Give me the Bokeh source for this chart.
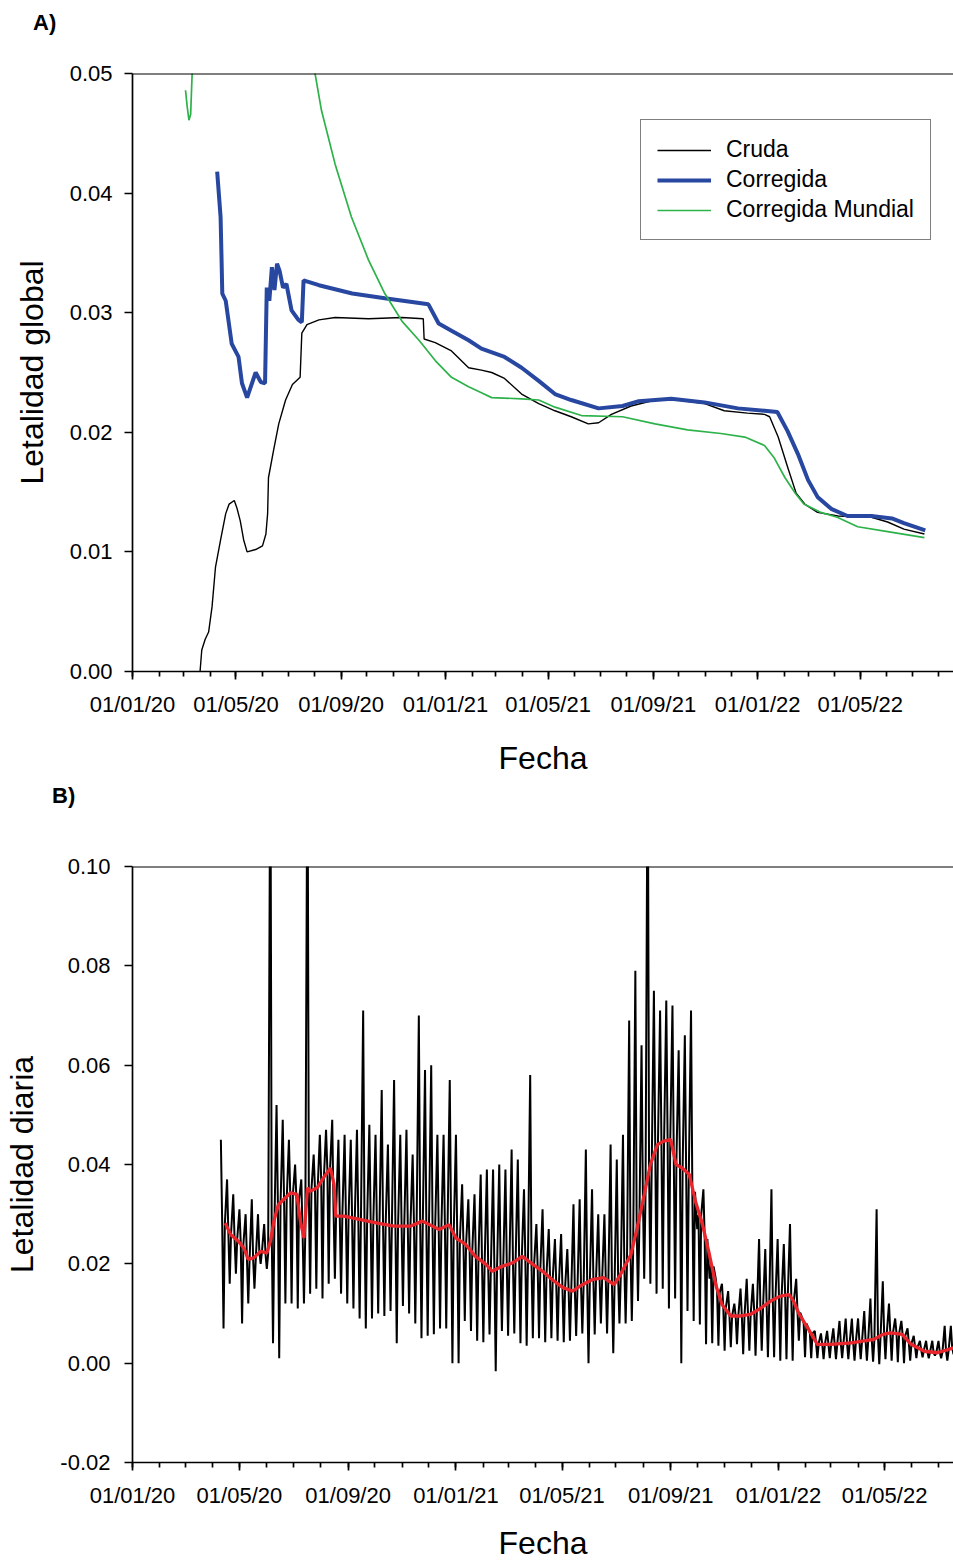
import numpy as np
from bokeh.plotting import figure
from bokeh.models import (Range1d, FixedTicker, DatetimeTickFormatter, NumeralTickFormatter,
                          Span, Div)
from bokeh.layouts import column
from bokeh.embed import file_html
from bokeh.resources import INLINE

FONT = "Liberation Sans"

# ---------------- Panel A data ----------------
cruda_dates = ["2020-03-20", "2020-03-22", "2020-03-26", "2020-03-30", "2020-04-03", "2020-04-07",
               "2020-04-13", "2020-04-19", "2020-04-23", "2020-04-29", "2020-05-02", "2020-05-06",
               "2020-05-10", "2020-05-14", "2020-05-24", "2020-06-01", "2020-06-05", "2020-06-07",
               "2020-06-08", "2020-06-14", "2020-06-20", "2020-06-28", "2020-07-06", "2020-07-15",
               "2020-07-17", "2020-07-23", "2020-08-06", "2020-08-25", "2020-10-03", "2020-11-11",
               "2020-12-06", "2020-12-07", "2020-12-20", "2021-01-08", "2021-01-28", "2021-02-12",
               "2021-02-24", "2021-03-11", "2021-03-31", "2021-04-20", "2021-05-09", "2021-05-28",
               "2021-06-17", "2021-06-29", "2021-07-14", "2021-08-06", "2021-09-03", "2021-09-30",
               "2021-10-31", "2021-11-23", "2021-12-20", "2022-01-09", "2022-01-15", "2022-01-25",
               "2022-02-05", "2022-02-15", "2022-02-25", "2022-03-12", "2022-04-05", "2022-05-14",
               "2022-06-02", "2022-06-21", "2022-07-15"]
cruda_vals = [0.0, 0.0018, 0.0027, 0.0033, 0.0054, 0.0087,
              0.0110, 0.0132, 0.0140, 0.0143, 0.0137, 0.0126,
              0.0110, 0.0100, 0.0102, 0.0105, 0.0115, 0.0132,
              0.0162, 0.0185, 0.0207, 0.0227, 0.0240, 0.0246,
              0.0283, 0.0290, 0.0294, 0.0296, 0.0295, 0.0296,
              0.0295, 0.0278, 0.0275, 0.0268, 0.0254, 0.0252,
              0.0250, 0.0245, 0.0232, 0.0224, 0.0218, 0.0213,
              0.0207, 0.0208, 0.0215, 0.0222, 0.0227, 0.0227,
              0.0224, 0.0218, 0.0216, 0.0215, 0.0213, 0.0196,
              0.0171, 0.0149, 0.0140, 0.0133, 0.0130, 0.0129,
              0.0125, 0.0119, 0.0115]

corr_dates = ["2020-04-09", "2020-04-13", "2020-04-14", "2020-04-15", "2020-04-19", "2020-04-26",
              "2020-05-04", "2020-05-08", "2020-05-14", "2020-05-24", "2020-05-30", "2020-06-04",
              "2020-06-06", "2020-06-09", "2020-06-12", "2020-06-15", "2020-06-18", "2020-06-21",
              "2020-06-25", "2020-06-29", "2020-07-05", "2020-07-13", "2020-07-17", "2020-07-19",
              "2020-08-06", "2020-09-14", "2020-10-22", "2020-12-12", "2020-12-24", "2021-01-08",
              "2021-01-28", "2021-02-12", "2021-03-11", "2021-03-31", "2021-04-20", "2021-05-09",
              "2021-05-28", "2021-06-29", "2021-07-27", "2021-08-15", "2021-09-22", "2021-10-31",
              "2021-12-09", "2022-01-09", "2022-01-24", "2022-02-05", "2022-02-17", "2022-03-01",
              "2022-03-12", "2022-03-28", "2022-04-16", "2022-05-14", "2022-06-07", "2022-06-21",
              "2022-07-16"]
corr_vals = [0.0418, 0.0380, 0.0349, 0.0316, 0.0310, 0.0274,
             0.0263, 0.0241, 0.0229, 0.0250, 0.0242, 0.0241,
             0.0321, 0.0310, 0.0338, 0.0319, 0.0341, 0.0335,
             0.0321, 0.0324, 0.0302, 0.0294, 0.0292, 0.0327,
             0.0323, 0.0316, 0.0312, 0.0307, 0.0291, 0.0285,
             0.0277, 0.0270, 0.0263, 0.0254, 0.0243, 0.0232,
             0.0227, 0.0220, 0.0222, 0.0226, 0.0228, 0.0225,
             0.0220, 0.0218, 0.0217, 0.0201, 0.0182, 0.0160,
             0.0146, 0.0136, 0.0130, 0.0130, 0.0128, 0.0124,
             0.0118]

mund_dates = ["2020-03-03", "2020-03-05", "2020-03-07", "2020-03-09", "2020-03-11", "2020-03-12",
              "2020-07-30", "2020-08-09", "2020-08-25", "2020-09-13", "2020-10-03", "2020-10-22",
              "2020-11-11", "2020-12-01", "2020-12-20", "2021-01-08", "2021-01-28", "2021-02-12",
              "2021-02-24", "2021-03-31", "2021-04-20", "2021-05-09", "2021-06-09", "2021-07-27",
              "2021-09-03", "2021-10-11", "2021-11-19", "2021-12-17", "2022-01-09", "2022-01-20",
              "2022-02-02", "2022-02-14", "2022-02-24", "2022-03-16", "2022-04-04", "2022-04-28",
              "2022-06-02", "2022-07-15"]
mund_vals = [0.0486, 0.0472, 0.0461, 0.0466, 0.0505, float("nan"),
             0.0510, 0.0469, 0.0424, 0.0380, 0.0344, 0.0316,
             0.0293, 0.0277, 0.0260, 0.0246, 0.0238, 0.0233,
             0.0229, 0.0228, 0.0227, 0.0221, 0.0214, 0.0213,
             0.0207, 0.0202, 0.0199, 0.0196, 0.0189, 0.0179,
             0.0162, 0.0149, 0.0140, 0.0133, 0.0129, 0.0121,
             0.0117, 0.0112]

# ---------------- Panel B data ----------------
# daily lethality, read week by week (values x 1000): spike top, trough and band centre
daily_start = "2020-04-10"
daily_hi = [45, 37, 34, 31, 30, 33, 30, 28, 130, 52,
            49, 45, 40, 37, 130, 42, 46, 47, 49, 45,
            46, 45, 47, 71, 48, 46, 55, 44, 57, 46,
            47, 42, 70, 59, 60, 46, 46, 57, 46, 36,
            33, 34, 38, 39, 39, 40, 39, 43, 41, 35,
            58, 28, 31, 27, 25, 26, 23, 32, 33, 43,
            35, 30, 30, 44, 41, 46, 69, 79, 64, 130,
            75, 71, 73, 72, 63, 66, 71, 27, 35, 17,
            17, 16, 14.5, 12, 15, 17, 16, 25, 23, 35,
            25, 24, 28, 17, 9, 7, 6.5, 6, 6.5, 7,
            8.5, 9, 9, 9, 10.5, 13, 31, 16.5, 12, 9,
            8.5, 7, 5.5, 4.5, 4.5, 4.5, 4.5, 7.5, 7.5]
daily_lo = [7, 16, 18, 8, 12, 15, 20, 19, 4, 1,
            12, 12, 11, 12, 14, 15, 13, 16, 17, 14,
            12, 11, 9, 7, 9, 10, 9.5, 10.5, 4, 11.5,
            10, 8, 5, 5.5, 5.8, 7, 7, 0, 0, 8.5,
            6.5, 4.5, 4.2, 5.8, -1.6, 6.5, 5.5, 6, 4, 3.5,
            5, 5, 4.2, 5, 4.5, 4.2, 4.5, 5.5, 6, 0,
            5.8, 8, 6, 2, 8, 8, 8.5, 12.5, 17, 16,
            14, 15, 11, 13, 0, 10.5, 8.5, 7.8, 3.8, 4,
            3.5, 2.5, 3.2, 3.8, 1.8, 2.5, 1.5, 2.5, 1.2, 1.2,
            0.5, 0.8, 0.5, 4.5, 1.2, 1, 1, 0.8, 1, 0.8,
            1, 0.8, 0.5, 0.8, 0.5, 0.3, -0.2, 0.8, 0.5, 0.2,
            0, 0.5, 1, 1.2, 1, 1.5, 1, 0.5, 1.8]
daily_mid = [28, 26, 25, 24, 21, 21, 22.5, 22, 27, 32,
             33, 34, 33, 26, 35, 35, 37, 39, 31, 30,
             29.5, 29, 29, 28.7, 28.5, 28.2, 28, 27.7, 27.6, 27.6,
             27.6, 28, 28.5, 28, 27.5, 27, 27.5, 26.5, 25, 24,
             22.5, 21.3, 20.3, 19, 19, 19.5, 20, 20.4, 21.2, 21,
             20, 19, 18, 17, 16, 15.2, 14.7, 15, 15.8, 16.4,
             16.9, 17.2, 17, 16, 17.4, 19.8, 22.5, 27.2, 33.9, 39.5,
             43.5, 44.6, 45, 41, 39.5, 38.3, 34.5, 29.8, 25, 19.5,
             14.3, 11.3, 9.5, 9.5, 9.5, 9.8, 10.4, 11.2, 12, 12.8,
             13.4, 13.7, 12.8, 10.2, 8, 6, 4, 3.8, 3.8, 3.9,
             4, 4.1, 4.2, 4.4, 4.6, 4.8, 5.5, 6, 6.1, 6,
             5.6, 4, 3.3, 2.6, 2.3, 2.1, 2.2, 2.6, 3.1]

red_dates = ["2020-04-15", "2020-04-21", "2020-04-30", "2020-05-06", "2020-05-11", "2020-05-17",
             "2020-05-25", "2020-06-01", "2020-06-05", "2020-06-09", "2020-06-14", "2020-06-22",
             "2020-06-28", "2020-07-05", "2020-07-09", "2020-07-13", "2020-07-17", "2020-07-20",
             "2020-07-28", "2020-08-04", "2020-08-12", "2020-08-16", "2020-08-18", "2020-08-27",
             "2020-09-15", "2020-10-04", "2020-10-23", "2020-11-11", "2020-11-24", "2020-12-13",
             "2020-12-24", "2021-01-01", "2021-01-12", "2021-01-23", "2021-02-04", "2021-02-11",
             "2021-02-22", "2021-03-06", "2021-03-17", "2021-03-29", "2021-04-09", "2021-04-20",
             "2021-05-02", "2021-05-13", "2021-05-24", "2021-06-04", "2021-06-17", "2021-06-29",
             "2021-07-06", "2021-07-18", "2021-07-25", "2021-08-02", "2021-08-09", "2021-08-17",
             "2021-08-24", "2021-09-01", "2021-09-07", "2021-09-14", "2021-09-22", "2021-09-29",
             "2021-10-07", "2021-10-14", "2021-10-22", "2021-10-29", "2021-11-08", "2021-11-19",
             "2021-11-30", "2021-12-12", "2021-12-23", "2022-01-03", "2022-01-13", "2022-01-18",
             "2022-01-24", "2022-02-03", "2022-02-14", "2022-03-01", "2022-03-24", "2022-04-19",
             "2022-04-29", "2022-05-08", "2022-05-21", "2022-05-31", "2022-06-15", "2022-06-30",
             "2022-07-18"]
red_vals = [0.0282, 0.0259, 0.0245, 0.0232, 0.0209, 0.0212,
            0.0225, 0.0222, 0.0245, 0.0286, 0.0319, 0.0333,
            0.0343, 0.0340, 0.0286, 0.0252, 0.0353, 0.0346,
            0.0353, 0.0373, 0.0393, 0.0360, 0.0296, 0.0296,
            0.0289, 0.0282, 0.0276, 0.0276, 0.0286, 0.0269,
            0.0279, 0.0252, 0.0239, 0.0215, 0.0199, 0.0185,
            0.0195, 0.0202, 0.0215, 0.0199, 0.0185, 0.0168,
            0.0152, 0.0145, 0.0158, 0.0168, 0.0172, 0.0158,
            0.0178, 0.0219, 0.0272, 0.0339, 0.0400, 0.0440,
            0.0447, 0.0450, 0.0400, 0.0393, 0.0380, 0.0326,
            0.0279, 0.0225, 0.0158, 0.0118, 0.0095, 0.0095,
            0.0098, 0.0111, 0.0125, 0.0135, 0.0138, 0.0125,
            0.0100, 0.0071, 0.0038, 0.0038, 0.0041, 0.0048,
            0.0058, 0.0061, 0.0058, 0.0038, 0.0024, 0.0021,
            0.0031]

major_tick_dates = ["2020-01-01", "2020-05-01", "2020-09-01", "2021-01-01", "2021-05-01",
                    "2021-09-01", "2022-01-01", "2022-05-01", "2022-09-01"]
ya_ticks = [0.0, 0.01, 0.02, 0.03, 0.04, 0.05]
yb_ticks = [-0.02, 0.0, 0.02, 0.04, 0.06, 0.08, 0.10]


def dt(s):
    return np.array(s, dtype="datetime64[ms]")


def ms(s):
    return float(np.datetime64(s, "ms").astype("int64"))


major_ms = [ms(d) for d in major_tick_dates]
minor_ms = [ms(f"{y}-{m:02d}-01") for y in (2020, 2021, 2022) for m in range(1, 13)]
fmt = "%d/%m/%y"
xfmt = DatetimeTickFormatter(milliseconds=fmt, seconds=fmt, minsec=fmt, minutes=fmt,
                             hourmin=fmt, hours=fmt, days=fmt, months=fmt, years=fmt)


def style(p, yticks, ylabel):
    p.xgrid.visible = False
    p.ygrid.visible = False
    p.outline_line_color = None
    p.background_fill_color = "white"
    p.border_fill_color = "white"
    p.xaxis.ticker = FixedTicker(ticks=major_ms, minor_ticks=minor_ms)
    p.xaxis.formatter = xfmt
    p.yaxis.ticker = FixedTicker(ticks=yticks)
    p.yaxis.formatter = NumeralTickFormatter(format="0.00")
    for ax in (p.xaxis, p.yaxis):
        ax.axis_line_width = 1.7
        ax.axis_line_color = "black"
        ax.major_tick_line_width = 1.7
        ax.major_tick_line_color = "black"
        ax.minor_tick_line_width = 1.7
        ax.major_tick_in = 0
        ax.major_tick_out = 8
        ax.minor_tick_in = 0
        ax.minor_tick_out = 5
        ax.major_label_text_font = FONT
        ax.major_label_text_font_size = "22px"
        ax.major_label_text_color = "black"
        ax.axis_label_text_font = FONT
        ax.axis_label_text_font_size = "32px"
        ax.axis_label_text_font_style = "normal"
        ax.axis_label_text_color = "black"
    p.yaxis.minor_tick_line_color = None
    p.xaxis.major_label_standoff = 12
    p.xaxis.axis_label = "Fecha"
    p.yaxis.axis_label = ylabel


def panel_div(text, left, top, height):
    html = (f'<div style="position:relative;width:953px;height:{height}px;">'
            f'<span style="position:absolute;left:{left}px;top:{top}px;'
            f'font-family:\'{FONT}\';font-weight:bold;font-size:22px;line-height:1;'
            f'color:black;">{text}</span></div>')
    return Div(text=html, width=953, height=height, margin=(0, 0, 0, 0))


# ---------------- Figure A ----------------
pa = figure(width=953, height=740, x_axis_type="datetime", output_backend="svg",
            toolbar_location=None, min_border_left=127, min_border_right=0,
            min_border_top=33, min_border_bottom=109,
            x_range=Range1d(ms("2020-01-01"), ms("2022-08-18")),
            y_range=Range1d(0, 0.05))
style(pa, ya_ticks, "Letalidad global")
pa.yaxis.major_label_standoff = 12
pa.yaxis.axis_label_standoff = 17
pa.xaxis.axis_label_standoff = 20

pa.line(dt(cruda_dates), cruda_vals, line_color="black", line_width=1.4, legend_label="Cruda")
pa.line(dt(corr_dates), corr_vals, line_color="#2747A0", line_width=4, legend_label="Corregida")
pa.line(dt(mund_dates), mund_vals, line_color="#2DB24A", line_width=1.7,
        legend_label="Corregida Mundial")
pa.add_layout(Span(location=0.05, dimension="width", line_color="black", line_width=2))

lg = pa.legend[0]
lg.location = (508, 431)
lg.label_text_font = FONT
lg.label_text_font_size = "23px"
lg.label_text_color = "black"
lg.glyph_width = 54
lg.glyph_height = 20
lg.label_height = 20
lg.label_standoff = 15
lg.spacing = 3
lg.padding = 16
lg.margin = 0
lg.border_line_color = "black"
lg.border_line_width = 1.7
lg.background_fill_color = "white"
lg.background_fill_alpha = 1.0

# ---------------- Figure B ----------------
start = np.datetime64(daily_start, "ms")
hour = np.timedelta64(3600000, "ms")
bx, by = [], []
for i in range(len(daily_hi)):
    base = start + 7 * 24 * i * hour
    bx += [base, base + 36 * hour, base + 72 * hour, base + 108 * hour]
    by += [daily_hi[i] / 1000.0, daily_mid[i] / 1000.0, daily_lo[i] / 1000.0,
           daily_mid[i] / 1000.0]

pb = figure(width=953, height=753, x_axis_type="datetime", output_backend="svg",
            toolbar_location=None, min_border_left=132, min_border_right=0,
            min_border_top=56, min_border_bottom=101,
            x_range=Range1d(ms("2020-01-01"), ms("2022-07-18")),
            y_range=Range1d(-0.02, 0.10))
style(pb, yb_ticks, "Letalidad diaria")
pb.yaxis.major_label_standoff = 14
pb.yaxis.axis_label_standoff = 17
pb.xaxis.axis_label_standoff = 14

pb.line(np.array(bx), by, line_color="black", line_width=2.0)
pb.line(dt(red_dates), red_vals, line_color="#E8262C", line_width=3.3)
pb.add_layout(Span(location=0.10, dimension="width", line_color="black", line_width=2))

div_a = panel_div("A)", 33, 12, 40)
div_b = panel_div("B)", 52, 5, 30)

layout = column(div_a, pa, div_b, pb, spacing=0)
open("out.html", "w").write(file_html(layout, INLINE))
